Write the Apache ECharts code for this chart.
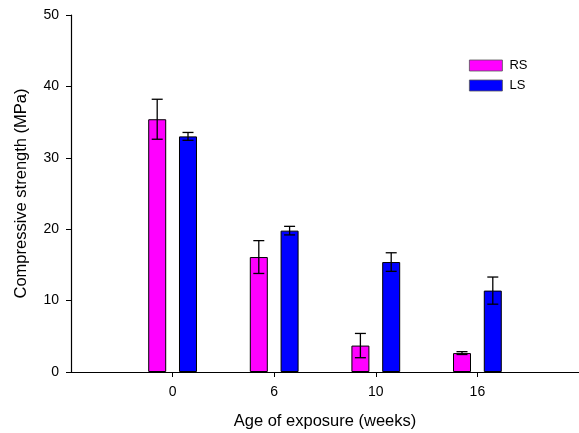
<!DOCTYPE html>
<html>
<head>
<meta charset="utf-8">
<script src="https://cdn.jsdelivr.net/npm/echarts@6/dist/echarts.min.js"></script>
<style>html,body{margin:0;padding:0;background:#fff}#c{width:579px;height:433px}</style>
</head>
<body>
<div id="c"></div>
<script>
var categories = ['0', '6', '10', '16'];
var rsValues = [35.4, 16.1, 3.7, 2.65];
var rsErr = [2.8, 2.3, 1.7, 0.2];
var lsValues = [33.0, 19.8, 15.4, 11.4];
var lsErr = [0.55, 0.6, 1.3, 1.9];
var yTicks = [0, 10, 20, 30, 40, 50];

var FONT = 'Liberation Sans, Arial, sans-serif';
var BAR_W = 18;
var OFFSET = 15.4;

function barData(vals) { return vals.map(function (v, i) { return [i, v]; }); }
function errData(vals, errs) { return vals.map(function (v, i) { return [i, v - errs[i], v + errs[i]]; }); }

function errRender(offset) {
  return function (params, api) {
    var x = api.value(0);
    var lo = api.coord([x, api.value(1)]);
    var hi = api.coord([x, api.value(2)]);
    var cx = lo[0] + offset;
    var half = 5.5;
    var st = { stroke: '#000', lineWidth: 1.3 };
    return {
      type: 'group',
      children: [
        { type: 'line', shape: { x1: cx, y1: lo[1], x2: cx, y2: hi[1] }, style: st },
        { type: 'line', shape: { x1: cx - half, y1: lo[1], x2: cx + half, y2: lo[1] }, style: st },
        { type: 'line', shape: { x1: cx - half, y1: hi[1], x2: cx + half, y2: hi[1] }, style: st }
      ]
    };
  };
}

var chart = echarts.init(document.getElementById('c'), null, { renderer: 'canvas' });
chart.setOption({
  backgroundColor: '#fff',
  animation: false,
  textStyle: { fontFamily: FONT },
  grid: { left: 71, right: 0, top: 15, bottom: 61, containLabel: false, outerBoundsMode: 'none' },
  legend: {
    data: ['RS', 'LS'],
    orient: 'vertical',
    left: 464, top: 54,
    itemWidth: 33, itemHeight: 11, itemGap: 7,
    icon: 'rect',
    itemStyle: { borderColor: '#555', borderWidth: 0.8 },
    textStyle: { fontFamily: FONT, fontSize: 13, color: '#000', padding: [0, 0, 0, 2] }
  },
  xAxis: {
    type: 'value',
    min: -1, max: 4,
    splitLine: { show: false },
    axisLine: { show: true, onZero: false, lineStyle: { color: '#000', width: 1.2 } },
    axisTick: { show: true, customValues: [0, 1, 2, 3], length: 5, lineStyle: { color: '#000' } },
    axisLabel: {
      customValues: [0, 1, 2, 3],
      formatter: function (v) { return categories[v]; },
      margin: 13, fontSize: 14, color: '#000', fontFamily: FONT
    },
    name: 'Age of exposure (weeks)',
    nameLocation: 'middle',
    nameGap: 41,
    nameTextStyle: { fontSize: 16.5, color: '#000', fontFamily: FONT }
  },
  yAxis: {
    type: 'value',
    min: 0, max: 50, interval: 10,
    splitLine: { show: false },
    axisLine: { show: true, onZero: false, lineStyle: { color: '#000', width: 1.2 } },
    axisTick: { show: true, length: 5, inside: false, lineStyle: { color: '#000' } },
    axisLabel: {
      margin: 12, fontSize: 14, color: '#000', fontFamily: FONT,
      formatter: function (v) { return yTicks.indexOf(v) >= 0 ? String(v) : ''; }
    },
    name: 'Compressive strength (MPa)',
    nameLocation: 'middle',
    nameGap: 41,
    nameRotate: 90,
    nameTextStyle: { fontSize: 16.5, color: '#000', fontFamily: FONT }
  },
  series: [
    {
      name: 'RS', type: 'bar', data: barData(rsValues),
      barWidth: BAR_W, barGap: '71%',
      itemStyle: { color: '#ff00ff', borderColor: '#000', borderWidth: 1 }
    },
    {
      name: 'LS', type: 'bar', data: barData(lsValues),
      barWidth: BAR_W, barGap: '71%',
      itemStyle: { color: '#0000ff', borderColor: '#000', borderWidth: 1 }
    },
    {
      name: 'RS err', type: 'custom', data: errData(rsValues, rsErr),
      renderItem: errRender(-OFFSET), z: 10, encode: { x: 0, y: [1, 2] }
    },
    {
      name: 'LS err', type: 'custom', data: errData(lsValues, lsErr),
      renderItem: errRender(OFFSET), z: 10, encode: { x: 0, y: [1, 2] }
    }
  ]
});
</script>
</body>
</html>
